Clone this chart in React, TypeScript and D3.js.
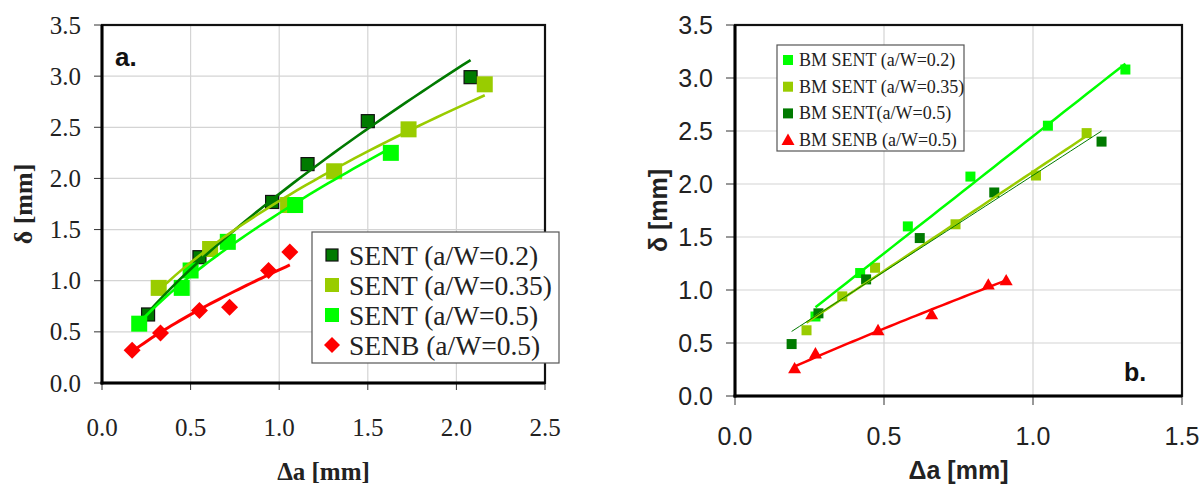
import React from "react";
import * as d3 from "d3";

// ---------- Panel a data ----------
const aTicksX = [0, 0.5, 1.0, 1.5, 2.0, 2.5];
const aTicksY = [0, 0.5, 1.0, 1.5, 2.0, 2.5, 3.0, 3.5];
const aX02 = [0.26, 0.55, 0.96, 1.16, 1.5, 2.08];
const aY02 = [0.67, 1.23, 1.77, 2.14, 2.56, 2.99];
const aX035 = [0.32, 0.61, 1.05, 1.31, 1.73, 2.16];
const aY035 = [0.93, 1.31, 1.74, 2.07, 2.48, 2.92];
const aX05 = [0.21, 0.45, 0.5, 0.71, 1.09, 1.63];
const aY05 = [0.58, 0.93, 1.1, 1.38, 1.74, 2.25];
const aXB = [0.17, 0.33, 0.55, 0.72, 0.94, 1.06];
const aYB = [0.32, 0.49, 0.71, 0.74, 1.1, 1.28];
const aLegend = ["SENT (a/W=0.2)", "SENT (a/W=0.35)", "SENT (a/W=0.5)", "SENB (a/W=0.5)"];

// ---------- Panel b data ----------
const bTicksX = [0, 0.5, 1.0, 1.5];
const bTicksY = [0, 0.5, 1.0, 1.5, 2.0, 2.5, 3.0, 3.5];
const bX02 = [0.27, 0.42, 0.58, 0.79, 1.05, 1.31];
const bY02 = [0.75, 1.16, 1.6, 2.07, 2.55, 3.08];
const bX035 = [0.24, 0.36, 0.47, 0.74, 1.01, 1.18];
const bY035 = [0.62, 0.94, 1.21, 1.62, 2.08, 2.48];
const bX05 = [0.19, 0.28, 0.44, 0.62, 0.87, 1.23];
const bY05 = [0.49, 0.78, 1.1, 1.49, 1.92, 2.4];
const bXB = [0.2, 0.27, 0.48, 0.66, 0.85, 0.91];
const bYB = [0.26, 0.4, 0.62, 0.77, 1.05, 1.09];
const bLegend = ["BM SENT (a/W=0.2)", "BM SENT (a/W=0.35)", "BM SENT(a/W=0.5)", "BM SENB (a/W=0.5)"];

const DARK = "#007A00";
const LIME = "#99CC00";
const BRIGHT = "#00FF00";
const RED = "#FF0000";

function powerFit(xs: number[], ys: number[]) {
  const lx = xs.map(Math.log), ly = ys.map(Math.log);
  const mx = d3.mean(lx)!, my = d3.mean(ly)!;
  let sxy = 0, sxx = 0;
  lx.forEach((v, i) => { sxy += (v - mx) * (ly[i] - my); sxx += (v - mx) * (v - mx); });
  const b = sxy / sxx;
  const a = Math.exp(my - b * mx);
  return (x: number) => a * Math.pow(x, b);
}
function linFit(xs: number[], ys: number[]) {
  const mx = d3.mean(xs)!, my = d3.mean(ys)!;
  let sxy = 0, sxx = 0;
  xs.forEach((v, i) => { sxy += (v - mx) * (ys[i] - my); sxx += (v - mx) * (v - mx); });
  const b = sxy / sxx;
  const a = my - b * mx;
  return (x: number) => a + b * x;
}
function trend(xs: number[], f: (x: number) => number) {
  const x0 = d3.min(xs)!, x1 = d3.max(xs)!;
  return d3.range(0, 41).map((i) => {
    const x = x0 + ((x1 - x0) * i) / 40;
    return [x, f(x)] as [number, number];
  });
}

export default function App() {
  const ax = d3.scaleLinear().domain([0, 2.5]).range([102, 545]);
  const ay = d3.scaleLinear().domain([0, 3.5]).range([383, 25]);
  const bx = d3.scaleLinear().domain([0, 1.5]).range([735, 1182]);
  const by = d3.scaleLinear().domain([0, 3.5]).range([396, 25]);

  const aLine = d3.line<[number, number]>().x((d) => ax(d[0])).y((d) => ay(d[1]));
  const bLine = d3.line<[number, number]>().x((d) => bx(d[0])).y((d) => by(d[1]));

  const serif = "'Liberation Serif', 'Times New Roman', serif";
  const sans = "'Liberation Sans', Arial, sans-serif";

  const sq = (cx: number, cy: number, s: number, fill: string, stroke?: string, key?: any) => (
    <rect key={key} x={cx - s / 2} y={cy - s / 2} width={s} height={s} fill={fill}
      stroke={stroke || "none"} strokeWidth={stroke ? 1.2 : 0} />
  );
  const diamond = (cx: number, cy: number, r: number, fill: string, key?: any) => (
    <path key={key} d={`M${cx},${cy - r}L${cx + r},${cy}L${cx},${cy + r}L${cx - r},${cy}Z`} fill={fill} />
  );
  const tri = (cx: number, cy: number, r: number, fill: string, key?: any) => (
    <path key={key} d={`M${cx},${cy - r}L${cx + r},${cy + r * 0.75}L${cx - r},${cy + r * 0.75}Z`} fill={fill} />
  );

  const aSeries = [
    { xs: aX02, ys: aY02, color: DARK },
    { xs: aX035, ys: aY035, color: LIME },
    { xs: aX05, ys: aY05, color: BRIGHT },
  ];
  const bSeries = [
    { xs: bX02, ys: bY02, color: BRIGHT, w: 2.5 },
    { xs: bX035, ys: bY035, color: LIME, w: 2.5 },
    { xs: bX05, ys: bY05, color: DARK, w: 1 },
  ];

  return (
    <svg width={1201} height={486} style={{ position: "absolute", left: 0, top: 0, background: "#fff" }}>
      <rect x={0} y={0} width={1201} height={486} fill="#fff" />
      {/* ================= Panel a ================= */}
      <g>
        {aTicksX.slice(1, -1).map((t) => (
          <line key={"agx" + t} x1={ax(t)} x2={ax(t)} y1={ay(0)} y2={ay(3.5)} stroke="#d4d4d4" strokeWidth={1.2} />
        ))}
        {aTicksY.slice(1, -1).map((t) => (
          <line key={"agy" + t} x1={ax(0)} x2={ax(2.5)} y1={ay(t)} y2={ay(t)} stroke="#d4d4d4" strokeWidth={1.2} />
        ))}
        {aTicksX.map((t) => (
          <line key={"atx" + t} x1={ax(t)} x2={ax(t)} y1={ay(0)} y2={ay(0) + 7} stroke="#333" strokeWidth={1} />
        ))}
        {aTicksY.map((t) => (
          <line key={"aty" + t} x1={ax(0) - 8} x2={ax(0)} y1={ay(t)} y2={ay(t)} stroke="#333" strokeWidth={1} />
        ))}
        <rect x={ax(0)} y={ay(3.5)} width={ax(2.5) - ax(0)} height={ay(0) - ay(3.5)} fill="none" stroke="#111" strokeWidth={2.2} />
        <line x1={ax(0)} x2={ax(0)} y1={ay(3.5)} y2={ay(0) + 1.5} stroke="#000" strokeWidth={3} />
        <line x1={ax(0) - 1.5} x2={ax(2.5)} y1={ay(0)} y2={ay(0)} stroke="#000" strokeWidth={3} />
        {aTicksX.map((t) => (
          <text key={"alx" + t} x={ax(t)} y={427} textAnchor="middle" dominantBaseline="central"
            fontFamily={serif} fontSize={25} fill="#222">{t.toFixed(1)}</text>
        ))}
        {aTicksY.map((t) => (
          <text key={"aly" + t} x={81} y={ay(t)} textAnchor="end" dominantBaseline="central"
            fontFamily={serif} fontSize={25} fill="#222">{t.toFixed(1)}</text>
        ))}
        <text x={(ax(0) + ax(2.5)) / 2} y={471} textAnchor="middle" dominantBaseline="central"
          fontFamily={serif} fontWeight="bold" fontSize={25} fill="#222">Δa [mm]</text>
        <text transform={`translate(23,${(ay(0) + ay(3.5)) / 2}) rotate(-90)`} textAnchor="middle" dominantBaseline="central"
          fontFamily={serif} fontWeight="bold" fontSize={26} fill="#222">δ [mm]</text>
        <text x={115} y={57} dominantBaseline="central" fontFamily={sans} fontWeight="bold" fontSize={26} fill="#111">a.</text>

        {aX02.map((x, i) => sq(ax(x), ay(aY02[i]), 13, DARK, "#111", "am02" + i))}
        {aX035.map((x, i) => sq(ax(x), ay(aY035[i]), 16, LIME, undefined, "am035" + i))}
        {aX05.map((x, i) => sq(ax(x), ay(aY05[i]), 16, BRIGHT, undefined, "am05" + i))}
        {aXB.map((x, i) => diamond(ax(x), ay(aYB[i]), 8.5, RED, "amb" + i))}
        {aSeries.map((s, i) => (
          <path key={"atl" + i} d={aLine(trend(s.xs, powerFit(s.xs, s.ys))) || ""} fill="none" stroke={s.color} strokeWidth={2.6} />
        ))}
        <path d={aLine(trend(aXB, powerFit(aXB, aYB))) || ""} fill="none" stroke={RED} strokeWidth={3} />

        <rect x={312} y={232} width={247} height={131} fill="#fff" stroke="#555" strokeWidth={1.2} />
        {aLegend.map((name, i) => {
          const cy = 255 + i * 30;
          return (
            <g key={"alg" + i}>
              {i === 0 && sq(332, cy, 12, DARK, "#111")}
              {i === 1 && sq(332, cy, 14, LIME)}
              {i === 2 && sq(332, cy, 14, BRIGHT)}
              {i === 3 && diamond(332, cy, 8, RED)}
              <text x={349} y={cy} dominantBaseline="central" fontFamily={serif} fontSize={27.5} fill="#222">{name}</text>
            </g>
          );
        })}
      </g>

      {/* ================= Panel b ================= */}
      <g>
        {bTicksX.slice(1, -1).map((t) => (
          <line key={"bgx" + t} x1={bx(t)} x2={bx(t)} y1={by(0)} y2={by(3.5)} stroke="#d4d4d4" strokeWidth={1.2} />
        ))}
        {bTicksY.slice(1, -1).map((t) => (
          <line key={"bgy" + t} x1={bx(0)} x2={bx(1.5)} y1={by(t)} y2={by(t)} stroke="#d4d4d4" strokeWidth={1.2} />
        ))}
        {bTicksX.map((t) => (
          <line key={"btx" + t} x1={bx(t)} x2={bx(t)} y1={by(0)} y2={by(0) + 9} stroke="#333" strokeWidth={1} />
        ))}
        {bTicksY.map((t) => (
          <line key={"bty" + t} x1={bx(0) - 9} x2={bx(0)} y1={by(t)} y2={by(t)} stroke="#333" strokeWidth={1} />
        ))}
        <rect x={bx(0)} y={by(3.5)} width={bx(1.5) - bx(0)} height={by(0) - by(3.5)} fill="none" stroke="#111" strokeWidth={2.2} />
        <line x1={bx(0)} x2={bx(0)} y1={by(3.5)} y2={by(0) + 1.5} stroke="#000" strokeWidth={3} />
        <line x1={bx(0) - 1.5} x2={bx(1.5)} y1={by(0)} y2={by(0)} stroke="#000" strokeWidth={3} />
        {bTicksX.map((t) => (
          <text key={"blx" + t} x={bx(t)} y={436} textAnchor="middle" dominantBaseline="central"
            fontFamily={sans} fontSize={25} fill="#222">{t.toFixed(1)}</text>
        ))}
        {bTicksY.map((t) => (
          <text key={"bly" + t} x={713} y={by(t)} textAnchor="end" dominantBaseline="central"
            fontFamily={sans} fontSize={25} fill="#222">{t.toFixed(1)}</text>
        ))}
        <text x={(bx(0) + bx(1.5)) / 2} y={470} textAnchor="middle" dominantBaseline="central"
          fontFamily={sans} fontWeight="bold" fontSize={25} fill="#222">Δa [mm]</text>
        <text transform={`translate(658,${(by(0) + by(3.5)) / 2}) rotate(-90)`} textAnchor="middle" dominantBaseline="central"
          fontFamily={sans} fontWeight="bold" fontSize={25} fill="#222">δ [mm]</text>
        <text x={1124} y={372} dominantBaseline="central" fontFamily={sans} fontWeight="bold" fontSize={25} fill="#111">b.</text>

        {bX02.map((x, i) => sq(bx(x), by(bY02[i]), 10, BRIGHT, undefined, "bm02" + i))}
        {bX035.map((x, i) => sq(bx(x), by(bY035[i]), 10, LIME, undefined, "bm035" + i))}
        {bX05.map((x, i) => sq(bx(x), by(bY05[i]), 10, DARK, undefined, "bm05" + i))}
        {bXB.map((x, i) => tri(bx(x), by(bYB[i]), 6.5, RED, "bmb" + i))}
        {bSeries.map((s, i) => (
          <path key={"btl" + i} d={bLine(trend(s.xs, linFit(s.xs, s.ys))) || ""} fill="none" stroke={s.color} strokeWidth={s.w} />
        ))}
        <path d={bLine(trend(bXB, powerFit(bXB, bYB))) || ""} fill="none" stroke={RED} strokeWidth={2.5} />

        <rect x={777} y={45} width={187} height={106} fill="#fff" stroke="#555" strokeWidth={1.2} />
        {bLegend.map((name, i) => {
          const cy = 60 + i * 26.7;
          return (
            <g key={"blg" + i}>
              {i === 0 && sq(788, cy, 10, BRIGHT)}
              {i === 1 && sq(788, cy, 10, LIME)}
              {i === 2 && sq(788, cy, 10, DARK)}
              {i === 3 && tri(788, cy, 6.5, RED)}
              <text x={799} y={cy} dominantBaseline="central" fontFamily={serif} fontSize={18} fill="#222">{name}</text>
            </g>
          );
        })}
      </g>
    </svg>
  );
}
